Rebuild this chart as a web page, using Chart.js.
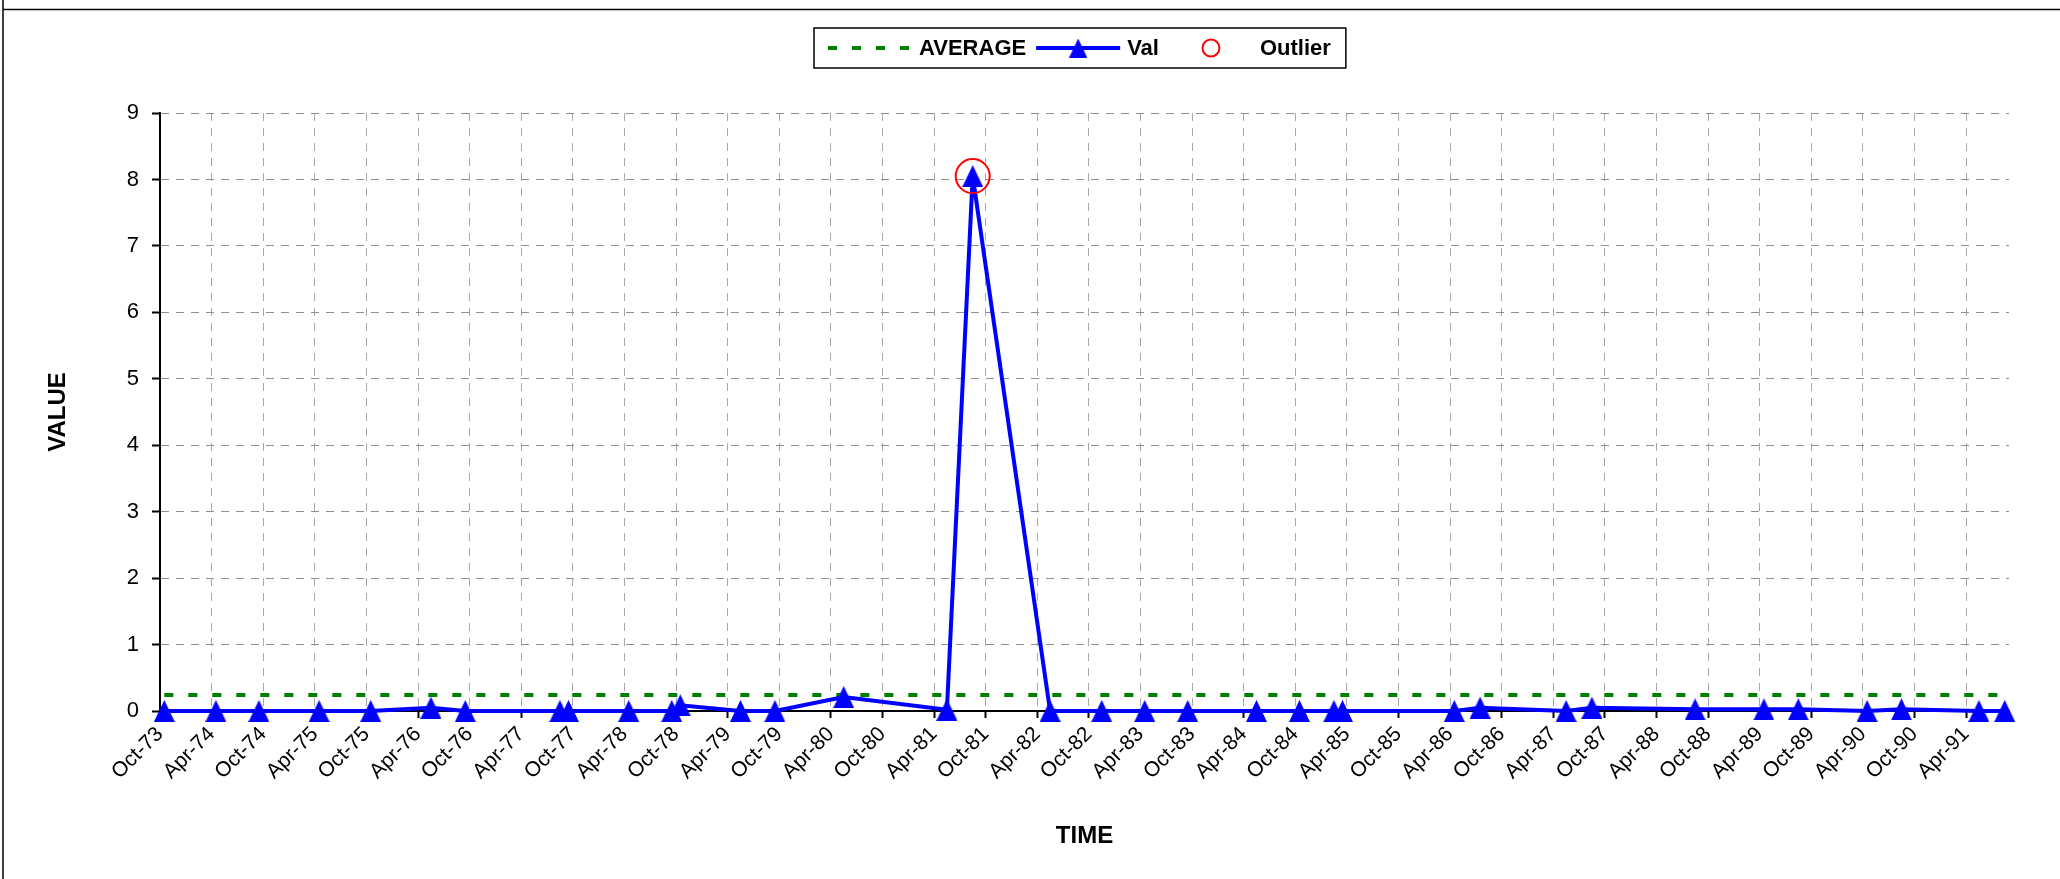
<!DOCTYPE html>
<html>
<head>
<meta charset="utf-8">
<script src="https://cdn.jsdelivr.net/npm/chart.js@4.4.0/dist/chart.umd.min.js"></script>
<style>
  html, body { margin: 0; padding: 0; background: #fff; }
  canvas { display: block; }
</style>
</head>
<body>
<canvas id="myChart" width="2060" height="879"></canvas>
<script>
// sample dates (year-month) and values
const sampleMonths = ['1973-10', '1974-04', '1974-09', '1975-04', '1975-10', '1976-05', '1976-09',
  '1977-08', '1977-09', '1978-04', '1978-09', '1978-10', '1979-05', '1979-09', '1980-05',
  '1981-05', '1981-08', '1982-05', '1982-11', '1983-04', '1983-09', '1984-05', '1984-10',
  '1985-02', '1985-03', '1986-04', '1986-07', '1987-05', '1987-08', '1988-08', '1989-04',
  '1989-08', '1990-04', '1990-08', '1991-05', '1991-08'];
const valValues = [0, 0, 0, 0, 0, 0.05, 0,
  0, 0, 0, 0, 0.085, 0, 0, 0.21,
  0.02, 8.05, 0, 0, 0, 0, 0, 0,
  0, 0, 0, 0.05, 0, 0.05, 0.025, 0.025,
  0.025, 0, 0.025, 0, 0];
const averageValue = 0.24;
const outlierMonths = ['1981-08'];
const outlierValues = [8.05];
const tickLabels = ['Oct-73', 'Apr-74', 'Oct-74', 'Apr-75', 'Oct-75', 'Apr-76', 'Oct-76', 'Apr-77',
  'Oct-77', 'Apr-78', 'Oct-78', 'Apr-79', 'Oct-79', 'Apr-80', 'Oct-80', 'Apr-81', 'Oct-81',
  'Apr-82', 'Oct-82', 'Apr-83', 'Oct-83', 'Apr-84', 'Oct-84', 'Apr-85', 'Oct-85', 'Apr-86',
  'Oct-86', 'Apr-87', 'Oct-87', 'Apr-88', 'Oct-88', 'Apr-89', 'Oct-89', 'Apr-90', 'Oct-90', 'Apr-91'];

const monthNames = ['Jan', 'Feb', 'Mar', 'Apr', 'May', 'Jun', 'Jul', 'Aug', 'Sep', 'Oct', 'Nov', 'Dec'];
const FONT = '"Liberation Sans", Arial, sans-serif';

// x axis counts months; a sample sits in the middle of its month
function monthIndex(s) {
  const [y, m] = s.split('-');
  return +y * 12 + (+m - 1);
}
function labelIndex(l) {
  const [mon, yy] = l.split('-');
  return (1900 + +yy) * 12 + monthNames.indexOf(mon);
}
const tickMonths = tickLabels.map(labelIndex);
const xMin = monthIndex(sampleMonths[0]);
const xMax = monthIndex(sampleMonths[sampleMonths.length - 1]) + 1;

const valPoints = sampleMonths.map((m, i) => ({ x: monthIndex(m) + 0.5, y: valValues[i] }));
const avgPoints = sampleMonths.map(m => ({ x: monthIndex(m) + 0.5, y: averageValue }));
const outlierPoints = outlierMonths.map((m, i) => ({ x: monthIndex(m) + 0.5, y: outlierValues[i] }));

function makeTriangle(w, h, color) {
  const c = document.createElement('canvas');
  c.width = w;
  c.height = h;
  const g = c.getContext('2d');
  g.fillStyle = color;
  g.beginPath();
  g.moveTo(w / 2, 0);
  g.lineTo(w, h);
  g.lineTo(0, h);
  g.closePath();
  g.fill();
  return c;
}
const triangle = makeTriangle(21, 22, '#0000ff');

// white page + the frame lines of the original picture
const frame = {
  id: 'frame',
  beforeDraw(chart) {
    const ctx = chart.ctx;
    ctx.save();
    ctx.fillStyle = '#fff';
    ctx.fillRect(0, 0, chart.width, chart.height);
    ctx.strokeStyle = '#000';
    ctx.lineWidth = 1.5;
    ctx.beginPath();
    ctx.moveTo(3, 0);
    ctx.lineTo(3, chart.height);
    ctx.moveTo(3, 9.5);
    ctx.lineTo(chart.width, 9.5);
    ctx.stroke();
    ctx.restore();
  }
};

// boxed legend with line + marker keys, like the spreadsheet one
const legendBox = {
  id: 'legendBox',
  afterDraw(chart) {
    const ctx = chart.ctx;
    const ds = chart.data.datasets;
    const slot = 84, gapText = 7, gapItem = 10, padL = 14, padR = 15;
    const top = 28, h = 40, midY = top + h / 2;
    ctx.save();
    ctx.font = 'bold 22px ' + FONT;
    const widths = ds.map(d => ctx.measureText(d.label).width);
    let total = padL + padR - gapItem;
    widths.forEach(w => { total += slot + gapText + w + gapItem; });
    const cx = (chart.chartArea.left + chart.chartArea.right) / 2 - 5;
    let x = Math.round(cx - total / 2);
    ctx.strokeStyle = '#000';
    ctx.lineWidth = 1.5;
    ctx.strokeRect(x, top, total, h);
    x += padL;
    ds.forEach((d, i) => {
      if (d.showLine !== false) {
        ctx.save();
        ctx.strokeStyle = d.borderColor;
        ctx.lineWidth = d.borderWidth;
        ctx.setLineDash(d.borderDash || []);
        ctx.beginPath();
        ctx.moveTo(x, midY);
        ctx.lineTo(x + slot, midY);
        ctx.stroke();
        ctx.restore();
      }
      if (d.pointStyle === triangle) {
        ctx.drawImage(makeTriangle(18, 19, '#0000ff'), x + slot / 2 - 9, midY - 9.5);
      } else if (d.pointStyle === 'circle') {
        ctx.save();
        ctx.strokeStyle = d.borderColor;
        ctx.lineWidth = d.borderWidth;
        ctx.beginPath();
        ctx.arc(x + slot / 2, midY, 8.5, 0, Math.PI * 2);
        ctx.stroke();
        ctx.restore();
      }
      ctx.fillStyle = '#000';
      ctx.textBaseline = 'middle';
      ctx.textAlign = 'left';
      ctx.fillText(d.label, x + slot + gapText, midY + 1);
      x += slot + gapText + widths[i] + gapItem;
    });
    ctx.restore();
  }
};

const ctx = document.getElementById('myChart');

new Chart(ctx, {
  type: 'line',
  data: {
    datasets: [{
      label: 'AVERAGE',
      data: avgPoints,
      borderColor: '#008000',
      borderWidth: 4,
      borderDash: [9, 15],
      pointRadius: 0,
      tension: 0,
      order: 3,
      clip: false
    }, {
      label: 'Val',
      data: valPoints,
      borderColor: '#0000ff',
      backgroundColor: '#0000ff',
      borderWidth: 4,
      pointStyle: triangle,
      pointRadius: 11,
      tension: 0,
      order: 2,
      clip: false
    }, {
      label: 'Outlier',
      data: outlierPoints,
      showLine: false,
      pointStyle: 'circle',
      pointRadius: 17,
      borderColor: '#ff0000',
      backgroundColor: 'rgba(0,0,0,0)',
      borderWidth: 2,
      order: 1,
      clip: false
    }]
  },
  options: {
    responsive: false,
    animation: false,
    devicePixelRatio: 1,
    layout: { padding: { top: 113, right: 51, bottom: 0, left: 0 } },
    plugins: {
      legend: { display: false },
      tooltip: { enabled: false }
    },
    scales: {
      x: {
        type: 'linear',
        min: xMin,
        max: xMax,
        afterBuildTicks: (scale) => {
          scale.ticks = tickMonths.map(v => ({ value: v }));
        },
        afterFit: (scale) => { scale.height = 168; },
        ticks: {
          autoSkip: false,
          maxRotation: 45,
          minRotation: 45,
          padding: 4,
          color: '#000',
          font: { family: FONT, size: 21 },
          callback: (v, i) => tickLabels[i]
        },
        grid: {
          color: '#a8a8a8',
          lineWidth: 1,
          tickLength: 7,
          tickColor: '#000',
          tickWidth: 2
        },
        border: { color: '#000', width: 2, dash: [8, 7] },
        title: {
          display: true,
          text: 'TIME',
          color: '#000',
          font: { family: FONT, size: 24, weight: 'bold' },
          padding: { top: 0, bottom: 28 }
        }
      },
      y: {
        min: 0,
        max: 9,
        afterFit: (scale) => { scale.width = 160; },
        ticks: {
          stepSize: 1,
          padding: 13,
          color: '#000',
          font: { family: FONT, size: 22 }
        },
        grid: {
          color: '#909090',
          lineWidth: 1,
          tickLength: 8,
          tickColor: '#000',
          tickWidth: 2
        },
        border: { color: '#000', width: 2, dash: [8, 7] },
        title: {
          display: true,
          text: 'VALUE',
          color: '#000',
          font: { family: FONT, size: 24, weight: 'bold' },
          padding: { top: 44, bottom: 0 }
        }
      }
    }
  },
  plugins: [frame, legendBox]
});
</script>
</body>
</html>
